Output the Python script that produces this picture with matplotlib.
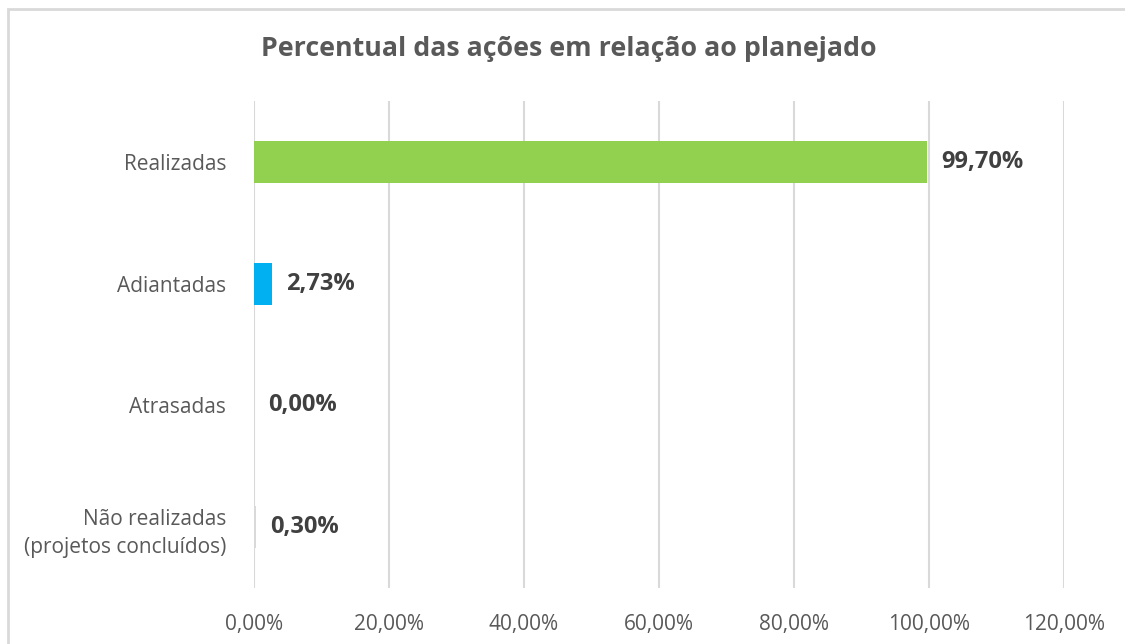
import matplotlib.pyplot as plt
from matplotlib.patches import Rectangle

plt.rcParams['font.family'] = ['Open Sans', 'DejaVu Sans']

categories = ['Realizadas', 'Adiantadas', 'Atrasadas', 'Não realizadas\n(projetos concluídos)']
values = [99.70, 2.73, 0.00, 0.30]
colors = ['#92D050', '#00B0F0', '#A5A5A5', '#D9D9D9']
xticks = [0, 20, 40, 60, 80, 100, 120]

text_gray = '#595959'
label_gray = '#404040'


def pct(v):
    return f'{v:.2f}%'.replace('.', ',')


fig = plt.figure(figsize=(11.25, 6.44), dpi=100)

# light frame like the exported chart area
fig.patches.append(Rectangle((8 / 1125, -0.1), 1.2, 1 - 9 / 644 + 0.1,
                             transform=fig.transFigure, fill=False,
                             edgecolor='#D9D9D9', linewidth=2))

ax = fig.add_axes([254 / 1125, 1 - 588 / 644, 810 / 1125, 487 / 644])

ypos = list(range(len(categories)))
ax.barh(ypos, values, height=0.345, color=colors, zorder=3)

for y, v in zip(ypos, values):
    ax.annotate(pct(v), xy=(v, y), xytext=(10, 0), textcoords='offset points',
                va='center', ha='left', fontsize=17, fontweight='bold',
                color=label_gray)

ax.set_xlim(0, 120)
ax.set_ylim(len(categories) - 0.5, -0.5)
ax.set_xticks(xticks)
ax.set_xticklabels([pct(t) for t in xticks])
ax.set_yticks(ypos)
ax.set_yticklabels(categories, linespacing=1.45)

ax.grid(axis='x', color='#D9D9D9', linewidth=1.5, zorder=0)
for s in ax.spines.values():
    s.set_visible(False)
ax.tick_params(axis='both', length=0, labelsize=15, colors=text_gray)
ax.tick_params(axis='x', pad=19)
ax.tick_params(axis='y', pad=20)

fig.text(0.506, 1 - 49 / 644, 'Percentual das ações em relação ao planejado',
         ha='center', va='center', fontsize=19.3, fontweight='bold', color=text_gray)

fig.savefig('out.png', dpi=100)
